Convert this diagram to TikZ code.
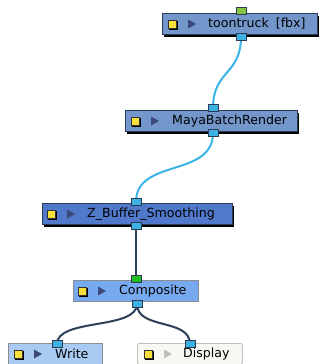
\documentclass[tikz,border=0pt]{standalone}
\usepackage{fontspec}
\setmainfont{DejaVu Sans}
\pgfdeclarelayer{bg}
\pgfdeclarelayer{wires}
\pgfsetlayers{bg,wires,main}
\definecolor{boxline}{HTML}{2B3A55}
\definecolor{cA}{HTML}{7396CB}
\definecolor{cZ}{HTML}{5179CB}
\definecolor{cC}{HTML}{77A9F0}
\definecolor{cW}{HTML}{A9CBF3}
\definecolor{cD}{HTML}{F7F8F3}
\definecolor{portblue}{HTML}{3DB1E2}
\definecolor{portgreen}{HTML}{86C440}
\definecolor{portgreen2}{HTML}{1FBF1F}
\definecolor{wireblue}{HTML}{3AB4E6}
\definecolor{wiredark}{HTML}{2E3F58}
\definecolor{iconyellow}{HTML}{F7E03C}
\definecolor{tri}{HTML}{3C4A7A}
\tikzset{
  fbox/.style={draw=boxline, line width=0.8pt, inner sep=0pt, anchor=north west, minimum height=21pt},
  fshadow/.style={fill=black, inner sep=0pt, anchor=north west, minimum height=21pt},
  port/.style={draw=boxline, line width=0.7pt, fill=portblue, inner sep=0pt, minimum width=10pt, minimum height=7.5pt},
  label/.style={anchor=west, inner sep=0pt, font=\fontsize{12.6}{14}\selectfont, text=black},
  ybox/.style={draw=black!80, line width=0.5pt, fill=iconyellow, inner sep=0pt, minimum size=8.5pt},
  yshadow/.style={fill=black, inner sep=0pt, minimum size=8.5pt},
  wireA/.style={draw=wireblue, line width=2pt},
  wireB/.style={draw=wiredark, line width=2pt}
}
\newcommand\ficon[3]{%
  \node[yshadow] at (#1+6.5,#2+1.5) {};
  \node[ybox] at (#1+5,#2) {};
  \fill[#3] (#1+21,#2-4.5) -- (#1+29,#2) -- (#1+21,#2+4.5) -- cycle;
}
\begin{document}
\begin{tikzpicture}[x=1pt,y=-1pt]
\begin{pgfonlayer}{bg}
\fill[white] (0,0) rectangle (320,364);
\end{pgfonlayer}
\useasboundingbox (0,0) rectangle (320,364);
% toontruck
\node[fshadow, minimum width=155pt] at (164,15.5) {};
\node[fbox, fill=cA, minimum width=155pt] (tt) at (162,13) {};
\ficon{167}{24}{tri}
\node[label] (ttl) at (208,24) {toontruck\hspace{7pt}[fbx]};
\node[port, fill=portgreen] (tttop) at (241,11) {};
\node[port] (ttbot) at (241,37) {};
% MayaBatchRender
\node[fshadow, minimum width=172pt] at (127,112.5) {};
\node[fbox, fill=cA, minimum width=172pt] (mb) at (125,110) {};
\ficon{130}{121}{tri}
\node[label] (mbl) at (172,121) {MayaBatchRender};
\node[port] (mbtop) at (213,108) {};
\node[port] (mbbot) at (213,133) {};
% Z_Buffer_Smoothing
\node[fshadow, minimum width=190pt] at (44,205.5) {};
\node[fbox, fill=cZ, minimum width=190pt] (zb) at (42,203) {};
\ficon{46}{214}{tri}
\node[label] (zbl) at (87,214) {Z\_Buffer\_Smoothing};
\node[port] (zbtop) at (136,202) {};
\node[port] (zbbot) at (136,226) {};
% Composite
\node[fbox, draw=black!45, fill=cC, minimum width=125pt] (cp) at (73,280) {};
\ficon{77}{291}{tri}
\node[label] (cpl) at (119,291) {Composite};
\node[port, fill=portgreen2] (cptop) at (136,279) {};
\node[port] (cpbot) at (137,304) {};
% Write
\node[fbox, draw=black!45, fill=cW, minimum width=94pt] (wr) at (8,343) {};
\ficon{13}{354}{tri}
\node[label] (wrl) at (55,354) {Write};
\node[port] (wrtop) at (57,344) {};
% Display
\node[fbox, draw=black!25, fill=cD, minimum width=105pt, rounded corners=1.5pt] (dp) at (137,343) {};
\ficon{143}{354}{black!25}
\node[label] (dpl) at (183,354) {Display};
\node[port] (dptop) at (190,344) {};
% wires
\begin{pgfonlayer}{wires}
\draw[wireA] (ttbot.center) .. controls (241,75) and (213,70) .. (mbtop.center);
\draw[wireA] (mbbot.center) .. controls (213,178) and (136,158) .. (zbtop.center);
\draw[wireB] (zbbot.center) -- (cptop.center);
\draw[wireB] (cpbot.center) .. controls (137,330) and (57,318) .. (wrtop.center);
\draw[wireB] (cpbot.center) .. controls (137,330) and (190,318) .. (dptop.center);
\end{pgfonlayer}
\end{tikzpicture}
\end{document}
